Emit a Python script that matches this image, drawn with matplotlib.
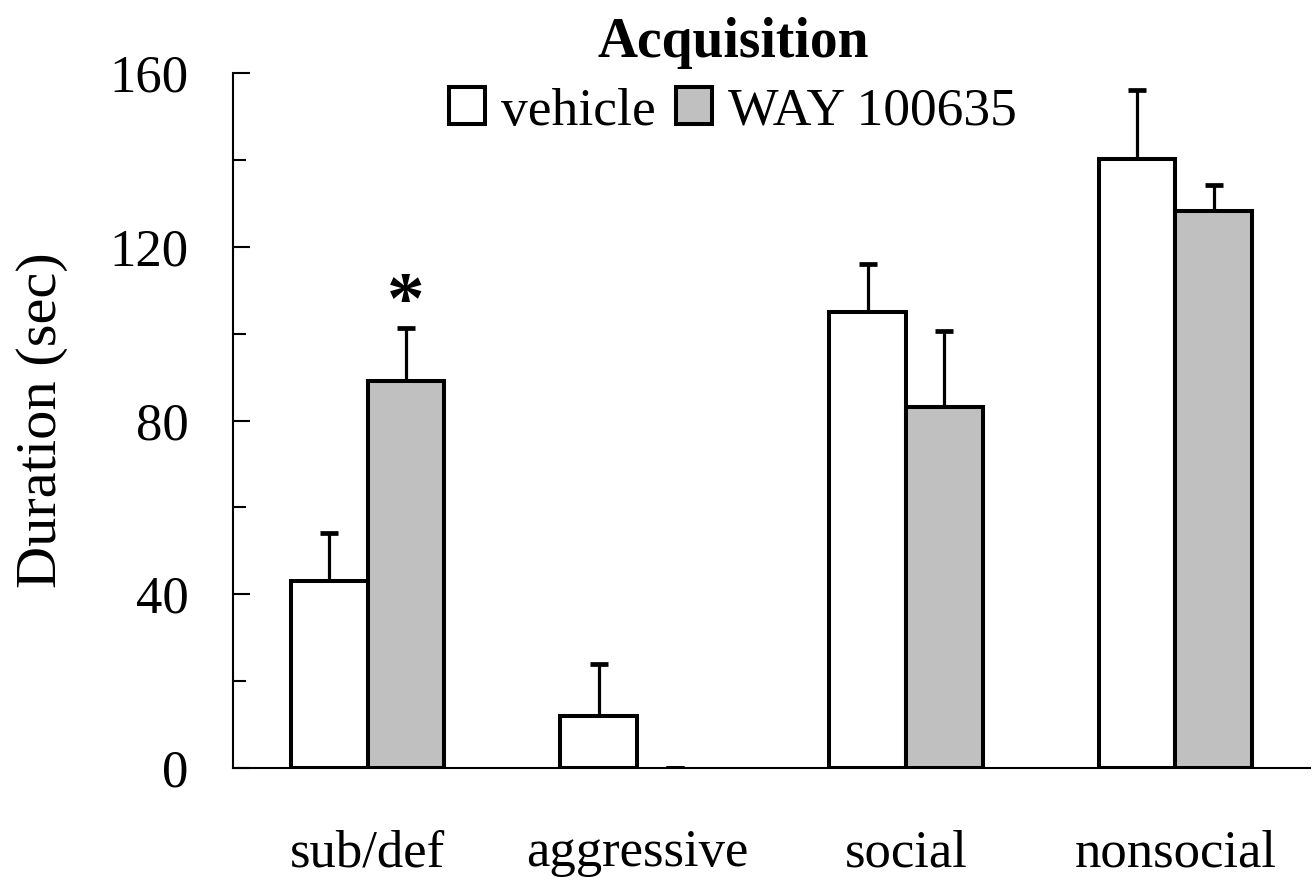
import matplotlib
matplotlib.use("Agg")
import matplotlib.pyplot as plt
import numpy as np
from matplotlib.patches import Patch
from matplotlib.ticker import MultipleLocator

plt.rcParams['font.family'] = ['Liberation Serif', 'DejaVu Serif']

categories = ["sub/def", "aggressive", "social", "nonsocial"]
series_names = ["vehicle", "WAY 100635"]
vehicle_mean = [43.0, 12.0, 105.0, 140.2]
vehicle_err = [11.0, 11.9, 11.0, 16.0]
way_mean = [89.0, 0.0, 83.0, 128.2]
way_err = [12.2, 0.0, 17.5, 6.0]
significant = [False, True, False, False, False, False, False, False]  # index: cat*2 + series
colors = ["#FFFFFF", "#C0C0C0"]
yticks = [0, 40, 80, 120, 160]

fig = plt.figure(figsize=(13.16, 8.80), dpi=100)
ax = fig.add_axes([233/1316, 1-768/880, (1310-233)/1316, (768-73)/880])

x = np.arange(len(categories))
w = 0.285
means = [vehicle_mean, way_mean]
errs = [vehicle_err, way_err]
offsets = [-w/2, w/2]
for s in range(2):
    vals = np.array(means[s])
    edge = ['black' if v > 0 else 'none' for v in vals]
    ax.bar(x + offsets[s], vals, width=w, color=colors[s], edgecolor=edge,
           linewidth=2.9, zorder=2)
    ax.errorbar(x + offsets[s], vals, yerr=[np.zeros(len(x)), errs[s]],
                fmt='none', ecolor='black', elinewidth=2.3, capsize=6.5, capthick=3.4,
                zorder=1, clip_on=True)

for c in range(len(categories)):
    for s in range(2):
        if significant[c*2 + s]:
            ax.text(x[c] + offsets[s], means[s][c] + errs[s][c] + 5.5, "*",
                    ha='center', va='center', fontsize=54, fontweight='bold')

ax.set_xlim(-0.5, 3.5)
ax.set_ylim(0, 160)
ax.set_yticks(yticks)
ax.set_yticklabels([str(v) for v in yticks])
ax.yaxis.set_minor_locator(MultipleLocator(20))
ax.set_xticks(x)
ax.set_xticklabels(categories)

for sp in ['top', 'right']:
    ax.spines[sp].set_visible(False)
for sp in ['left', 'bottom']:
    ax.spines[sp].set_linewidth(1.5)

ax.tick_params(axis='y', which='major', direction='in', length=12, width=1.5,
               labelsize=38, pad=32)
ax.tick_params(axis='y', which='minor', direction='in', length=9.5, width=1.5)
ax.tick_params(axis='x', which='both', length=0, labelsize=38, pad=44)

ax.set_ylabel("Duration (sec)", fontsize=42, labelpad=30)

handles = [Patch(facecolor=colors[i], edgecolor='black', linewidth=2.9) for i in range(2)]
leg = fig.legend(handles, series_names, loc='upper center', ncol=2,
                 bbox_to_anchor=(733/1316, 1 + 10/880), frameon=False,
                 fontsize=38.5, handlelength=0.68, handleheight=0.68,
                 handletextpad=0.3, columnspacing=0.38, borderpad=0.0,
                 labelspacing=0.35,
                 title="Acquisition", title_fontproperties={'weight': 'bold', 'size': 40})

fig.savefig("out.png", dpi=100)
